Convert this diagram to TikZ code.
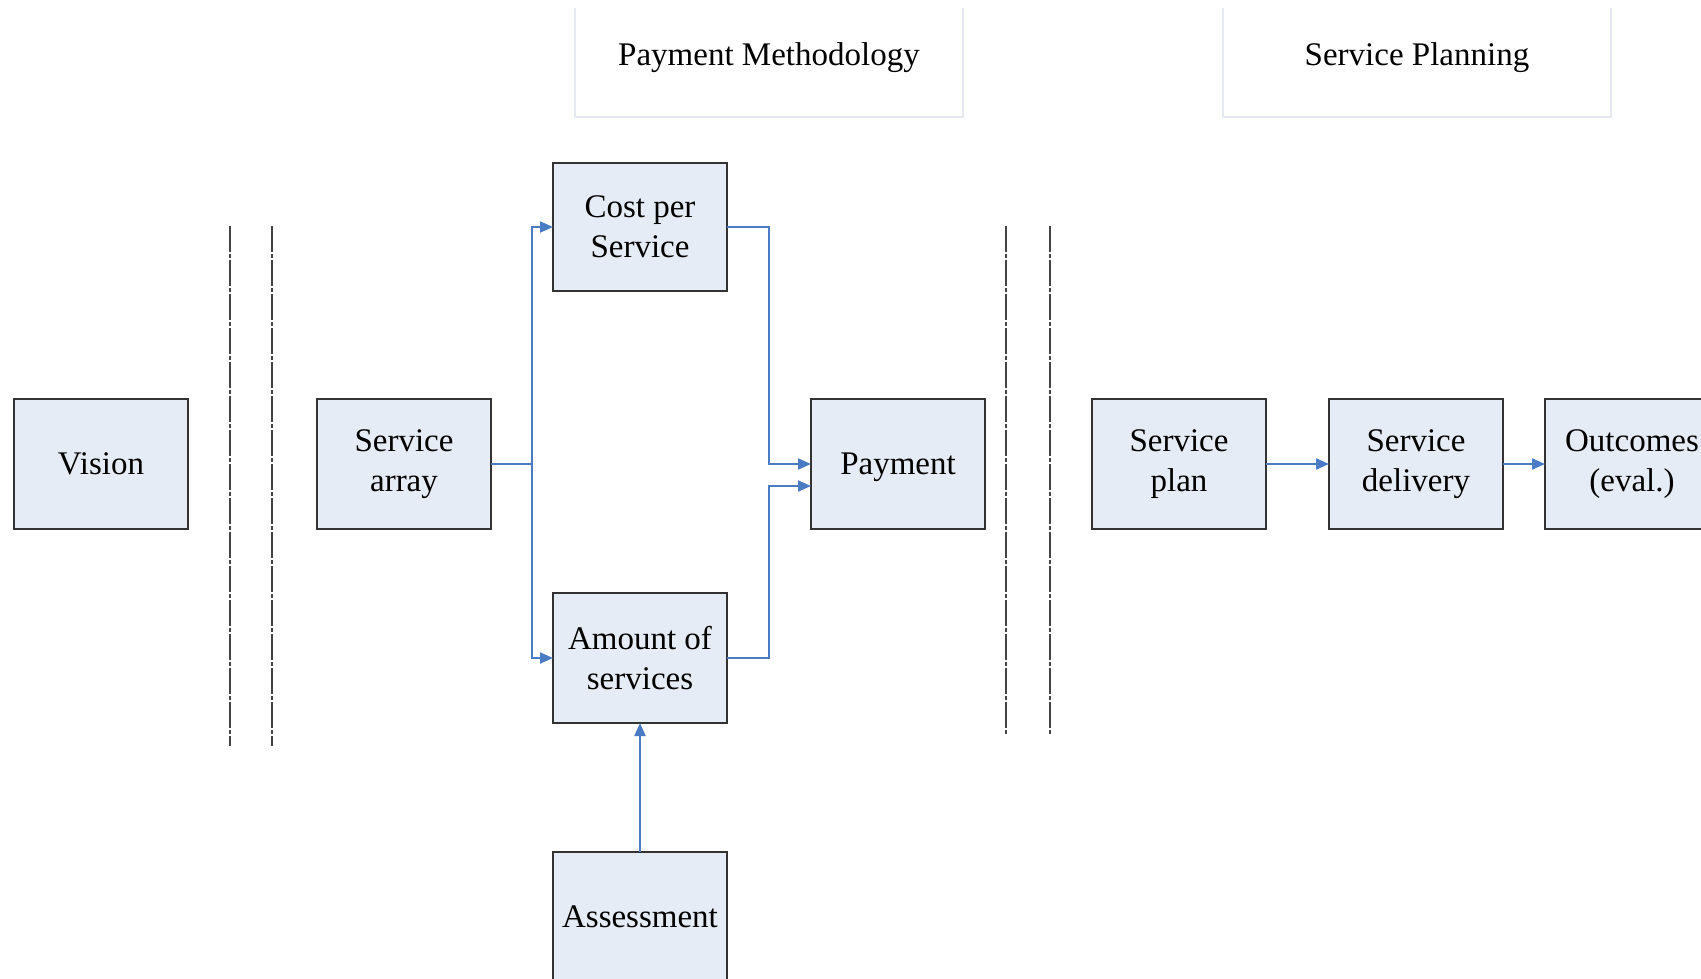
\documentclass[tikz,border=0pt]{standalone}
\usepackage{fontspec}
\setmainfont{Liberation Serif}
\usetikzlibrary{arrows.meta}
\definecolor{boxfill}{HTML}{E6ECF6}
\definecolor{boxline}{HTML}{333333}
\definecolor{arrblue}{HTML}{4A7CC4}
\definecolor{hdrline}{HTML}{E6EAF0}
\definecolor{sepline}{HTML}{444444}
\tikzset{
  box/.style={draw=boxline, fill=boxfill, line width=2pt, minimum width=174pt, minimum height=130pt,
    inner sep=0pt, outer sep=0pt, align=center, font=\fontsize{33}{40}\selectfont},
  hdrtext/.style={inner sep=0pt, font=\fontsize{33}{40}\selectfont},
  hdrframe/.style={draw=hdrline, line width=2pt},
  arr/.style={draw=arrblue, line width=2pt, -{Triangle[length=13pt,width=11pt]}},
  conn/.style={draw=arrblue, line width=2pt},
  sep/.style={draw=sepline, line width=2pt, dash pattern=on 26pt off 2pt on 4pt off 2pt}
}
\begin{document}
\begin{tikzpicture}[x=1pt,y=-1pt]
\useasboundingbox (0,0) rectangle (1701,979);
% header frames
\draw[hdrframe] (575,8) |- (963,117) -- (963,8);
\draw[hdrframe] (1223,8) |- (1611,117) -- (1611,8);
\node[hdrtext] (pm) at (769,58) {Payment Methodology};
\node[hdrtext] (sp) at (1417,58) {Service Planning};
% separators
\coordinate (s1a) at (230,226); \coordinate (s1b) at (230,746);
\coordinate (s2a) at (272,226); \coordinate (s2b) at (272,746);
\coordinate (s3a) at (1006,226); \coordinate (s3b) at (1006,734);
\coordinate (s4a) at (1050,226); \coordinate (s4b) at (1050,734);
\draw[sep] (s1a) -- (s1b);
\draw[sep] (s2a) -- (s2b);
\draw[sep] (s3a) -- (s3b);
\draw[sep] (s4a) -- (s4b);
% boxes
\node[box] (vision) at (101,464) {Vision};
\node[box] (array) at (404,464) {Service\\array};
\node[box, minimum height=128pt] (cost) at (640,227) {Cost per\\Service};
\node[box] (amount) at (640,658) {Amount of\\services};
\node[box] (assess) at (640,917) {Assessment};
\node[box, text depth=0pt] (pay) at (898,464) {Payment};
\node[box] (plan) at (1179,464) {Service\\plan};
\node[box] (deliv) at (1416,464) {Service\\delivery};
\node[box] (outc) at (1632,464) {Outcomes\\(eval.)};
% connectors
\coordinate (b1) at (532,464);
\draw[conn] (array.east) -- (b1);
\draw[arr] (b1) |- (cost.west);
\draw[arr] (b1) |- (amount.west);
\coordinate (j1) at (769,464);
\coordinate (j2) at (769,486);
\draw[arr] (cost.east) -| (j1) -- (pay.west);
\draw[arr] (amount.east) -| (j2) -- (pay.west |- j2);
\draw[arr] (assess.north) -- (amount.south);
\draw[arr] (plan.east) -- (deliv.west);
\draw[arr] (deliv.east) -- (outc.west);
\end{tikzpicture}
\end{document}
